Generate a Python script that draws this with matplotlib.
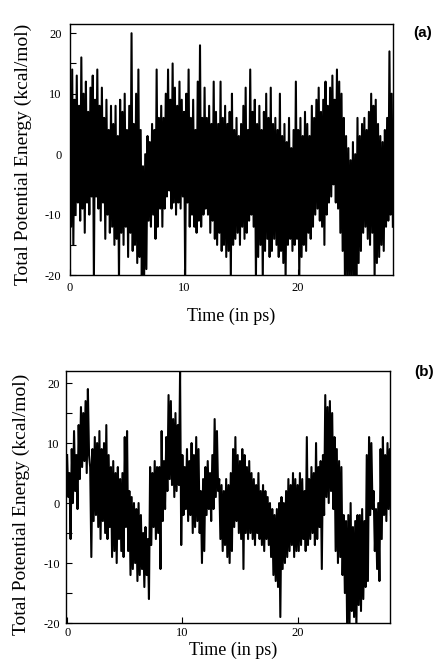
import numpy as np
import matplotlib
matplotlib.use("Agg")
import matplotlib.pyplot as plt
from matplotlib.ticker import MultipleLocator

plt.rcParams["axes.unicode_minus"] = False

# Panel (a): peak / trough values, one pair every 0.2 ps
a_hi = [11, 14, 9, 13, 8, 16, 10, 12, 7, 11,
        13, 9, 14, 8, 11, 6, 9, 4, 8, 5,
        8, 3, 9, 7, 10, 4, 8, 20, 5, 10,
        14, 4, -2, 0, 3, 2, 5, 4, 14, 6,
        8, 6, 10, 14, 9, 15, 11, 8, 12, 9,
        7, 10, 14, 6, 9, 4, 12, 18, 6, 11,
        6, 8, 5, 12, 7, 5, 12, 6, 8, 5,
        7, 10, 4, 6, 3, 5, 8, 11, 4, 14,
        7, 9, 5, 8, 4, 7, 10, 6, 11, 5,
        6, 4, 10, 3, 5, 2, 6, 1, 4, 12,
        4, 6, 3, 7, 5, 3, 8, 6, 9, 11,
        7, 9, 12, 8, 11, 13, 9, 14, 12, 10,
        6, 3, 1, -1, 2, 0, 6, 3, 5, 6,
        4, 7, 10, 8, 9, 5, 3, 2, 4, 6,
        17, 10]
a_lo = [-12, -15, -10, -8, -11, -9, -13, -8, -10, -7,
        -21, -7, -9, -11, -8, -14, -10, -13, -12, -15,
        -14, -21, -13, -15, -12, -17, -13, -16, -15, -18,
        -17, -21, -21, -19, -11, -12, -10, -14, -12, -9,
        -12, -9, -7, -6, -9, -8, -10, -8, -9, -7,
        -21, -8, -12, -10, -12, -13, -11, -12, -10, -9,
        -10, -13, -11, -14, -15, -13, -16, -15, -17, -16,
        -21, -15, -14, -13, -15, -12, -14, -13, -11, -10,
        -12, -21, -17, -15, -21, -16, -14, -17, -16, -14,
        -15, -17, -16, -18, -21, -15, -14, -16, -15, -14,
        -21, -17, -15, -16, -13, -14, -12, -10, -9, -11,
        -12, -15, -10, -8, -7, -5, -8, -9, -13, -16,
        -21, -21, -21, -21, -21, -21, -18, -16, -13, -12,
        -14, -15, -13, -21, -18, -17, -15, -16, -12, -11,
        -10, -12]

# Panel (b): same idea, narrower band that wanders
b_hi = [8, 5, 9, 12, 8, 13, 16, 15, 17, 19,
        6, 9, 11, 10, 12, 9, 10, 13, 8, 6,
        7, 5, 6, 4, 5, 11, 12, 2, 1, 0,
        -1, 0, -2, -5, -4, -6, 6, 5, 7, 6,
        6, 12, 7, 11, 18, 17, 14, 15, 13, 22,
        8, 6, 9, 7, 10, 8, 11, 9, 2, 4,
        6, 7, 5, 8, 14, 12, 4, 3, 2, 4,
        3, 5, 9, 11, 8, 7, 9, 8, 6, 7,
        5, 4, 3, 5, 2, 3, 2, 1, 0, -1,
        -2, -1, 0, 1, 0, 2, 4, 3, 5, 4,
        3, 5, 4, 2, 11, 4, 6, 5, 10, 6,
        7, 8, 18, 16, 17, 15, 11, 9, 7, 6,
        -2, -3, -2, 0, -4, -3, -2, -2, -1, -3,
        8, 11, 10, 2, -1, 0, 9, 11, 8, 10,
        9]
b_lo = [1, -6, 0, 2, -1, 4, 6, 7, 5, 8,
        -9, -3, -2, -4, -6, -3, -5, -6, -4, -9,
        -8, -10, -6, -8, -9, -4, -8, -12, -11, -10,
        -13, -12, -11, -14, -12, -16, -7, -4, -6, -5,
        -11, -3, -1, 2, 4, 3, 1, 2, 3, -7,
        -2, -1, -3, -2, -5, -4, -3, -5, -10, -8,
        -2, -1, -3, -1, 1, 2, -6, -8, -7, -9,
        -10, -8, -4, -3, -5, -6, -11, -5, -6, -5,
        -6, -7, -5, -6, -7, -8, -6, -7, -9, -12,
        -13, -14, -19, -11, -10, -9, -8, -7, -9, -8,
        -8, -7, -6, -8, -7, -6, -5, -7, -6, -4,
        -11, -2, 1, 0, 2, -1, -8, -10, -9, -12,
        -15, -21, -21, -18, -19, -21, -17, -18, -16, -14,
        -13, -2, -1, -8, -11, -13, -6, -2, -3, -1,
        -2]

YLABEL = "Total Potential Energy (kcal/mol)"
XLABEL = "Time (in ps)"
SERIF = ["Liberation Serif", "DejaVu Serif"]


def interleave(hi, lo):
    vals = np.empty(2 * len(hi))
    vals[0::2] = hi
    vals[1::2] = lo
    t = np.arange(len(vals)) * 0.1  # samples every 0.1 ps
    return t, vals


def style_axes(ax, xlim, ylim, xpad, ypad):
    ax.set_xlim(*xlim)
    ax.set_ylim(*ylim)
    ax.xaxis.set_major_locator(MultipleLocator(10))
    ax.yaxis.set_major_locator(MultipleLocator(10))
    ax.yaxis.set_minor_locator(MultipleLocator(5))
    ax.tick_params(axis="both", which="both", direction="in", top=False, right=False)
    ax.tick_params(axis="both", which="major", length=4, width=0.8, labelsize=9)
    ax.tick_params(axis="y", which="minor", length=4, width=0.8)
    ax.tick_params(axis="x", pad=xpad)
    ax.tick_params(axis="y", pad=ypad)
    for lab in ax.get_xticklabels() + ax.get_yticklabels():
        lab.set_family(SERIF)
    for s in ax.spines.values():
        s.set_linewidth(1.0)
    ax.set_ylabel(YLABEL, family=SERIF, fontsize=14, va="center")
    ax.set_xlabel(XLABEL, family=SERIF, fontsize=13, va="center")


fig = plt.figure(figsize=(4.37, 6.71), dpi=100)

ax_a = fig.add_axes([0.160, 0.590, 0.739, 0.374])
t, v = interleave(a_hi, a_lo)
ax_a.plot(t, v, color="black", linewidth=1.5)
style_axes(ax_a, (0, 28.3), (-20, 21.5), 5, 6)
ax_a.yaxis.set_label_coords(-0.145, 0.48)
ax_a.xaxis.set_label_coords(0.5, -0.165)
fig.text(0.988, 0.951, "(a)", family=["Liberation Sans", "DejaVu Sans"],
         fontsize=11, fontweight="bold", ha="right", va="center")

ax_b = fig.add_axes([0.151, 0.0715, 0.741, 0.3755])
t, v = interleave(b_hi, b_lo)
ax_b.plot(t, v, color="black", linewidth=1.5)
style_axes(ax_b, (-0.1, 28.0), (-20, 22), 3, 4.5)
ax_b.yaxis.set_label_coords(-0.138, 0.47)
ax_b.xaxis.set_label_coords(0.515, -0.11)
fig.text(0.992, 0.446, "(b)", family=["Liberation Sans", "DejaVu Sans"],
         fontsize=11, fontweight="bold", ha="right", va="center")

fig.savefig("out.png", dpi=100)
